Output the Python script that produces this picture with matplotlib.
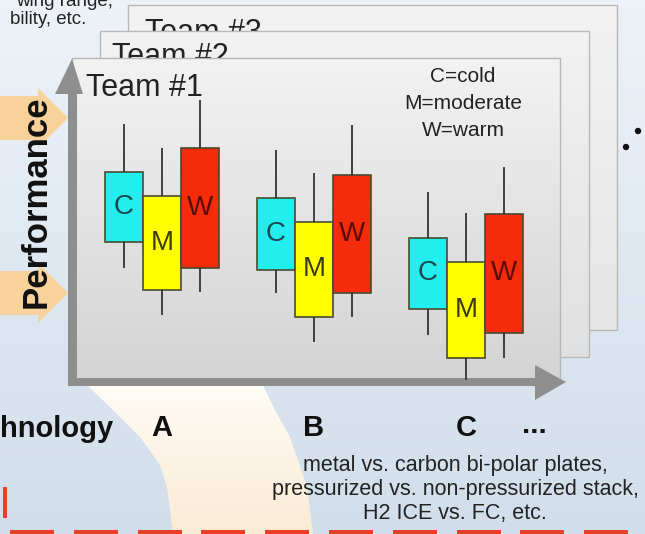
import numpy as np
import matplotlib.pyplot as plt
from matplotlib.patches import Polygon, Rectangle, Circle

# ---- data (performance, 0 = x axis, 100 = top of Team #1 panel) ----
techs = ['A', 'B', 'C']
climates = ['C', 'M', 'W']   # cold, moderate, warm
box_colors = ['#22eeee', '#ffff00', '#f42c0c']
text_colors = ['#1c4650', '#3c3a10', '#5a0c04']

whisker_hi = [[80, 72.5, 87.5], [72, 64.7, 79.7], [58.8, 52.2, 66.6]]
box_hi = [[65, 57.5, 72.5], [57, 49.4, 64], [44.4, 37, 52]]
box_lo = [[43, 28, 35], [34.4, 19.7, 27.2], [22.2, 7, 14.7]]
whisker_lo = [[35, 20.3, 27.5], [27.2, 12, 19.7], [14, 0, 7]]

W, H = 645, 534
SANS = ['Liberation Sans', 'DejaVu Sans']

fig = plt.figure(figsize=(W / 100, H / 100), dpi=100)
bg = fig.add_axes([0, 0, 1, 1])
bg.axis('off')


def vgrad(c0, c1, n=200):
    t = np.linspace(0, 1, n)[:, None, None]
    return np.array(c0) + (np.array(c1) - np.array(c0)) * t * np.ones((1, 2, 1))


# background gradient
bg.imshow(vgrad((0.93, 0.95, 0.97), (0.82, 0.87, 0.92)),
          extent=(0, W, H, 0), aspect='auto', zorder=0)

# cream swath under the chart
left = [(87, 385), (115, 412), (140, 437), (160, 465), (167, 487), (173, 534)]
right = [(313, 534), (307, 487), (290, 437), (275, 410), (263, 385)]
swath = Polygon(left + right, closed=True, fc='none', ec='none')
bg.add_patch(swath)
im = bg.imshow(vgrad((1.0, 0.99, 0.97), (0.98, 0.92, 0.83)),
               extent=(80, 320, H, 380), aspect='auto', zorder=1)
im.set_clip_path(swath)

# orange arrows at left
for yc in (118, 293):
    pts = [(0, yc - 22), (38, yc - 22), (38, yc - 30), (68, yc),
           (38, yc + 30), (38, yc + 22), (0, yc + 22)]
    bg.add_patch(Polygon(pts, closed=True, fc='#f8d29a', ec='none', zorder=1))


def panel(x0, y0, x1, y1, top, bot, z):
    bg.imshow(vgrad(top, bot, 100), extent=(x0, x1, y1, y0), aspect='auto', zorder=z)
    bg.add_patch(Rectangle((x0, y0), x1 - x0, y1 - y0, fc='none',
                           ec='#b8b8b8', lw=1, zorder=z + 0.1))


panel(128, 5, 617, 330, (0.95, 0.95, 0.95), (0.90, 0.90, 0.90), 2)
bg.text(145, 33, 'Team #3', fontsize=22, family=SANS, color='#222222',
        va='center', zorder=3)
panel(100, 31, 589, 357, (0.95, 0.95, 0.95), (0.88, 0.88, 0.88), 4)
bg.text(112, 57, 'Team #2', fontsize=22, family=SANS, color='#222222',
        va='center', zorder=5)
panel(72, 58, 560, 380, (0.95, 0.95, 0.95), (0.83, 0.83, 0.83), 6)
bg.text(86, 88, 'Team #1', fontsize=22, family=SANS, color='#222222',
        va='center', zorder=7)

# legend text
for i, s in enumerate(['C=cold', 'M=moderate', 'W=warm']):
    bg.text(463, 76 + 27.5 * i, s, fontsize=15, family=SANS,
            color='#222222', ha='center', va='center', zorder=7)

# axis arrows
ac = '#8e8e8e'
bg.add_patch(Rectangle((68, 92), 9, 293, fc=ac, ec='none', zorder=8))
bg.add_patch(Polygon([(55, 94), (83, 94), (72, 59)], fc=ac, ec='none', zorder=8))
bg.add_patch(Rectangle((68, 378), 470, 8, fc=ac, ec='none', zorder=8))
bg.add_patch(Polygon([(535, 365), (535, 400), (566, 382)], fc=ac, ec='none', zorder=8))

bg.text(36, 202, 'Performance', rotation=90, fontsize=25, fontweight='bold',
        family=SANS, color='#111111', ha='center', va='center', zorder=8)

# more teams dots
bg.add_patch(Circle((626, 147), 3.2, fc='#111111', ec='none', zorder=8))
bg.add_patch(Circle((638, 131), 3.2, fc='#111111', ec='none', zorder=8))

# top-left clipped text
bg.text(113, 1, 'wing range,', fontsize=13.5, family=SANS, ha='right',
        va='center', color='#222222', zorder=8)
bg.text(86, 19, 'bility, etc.', fontsize=13.5, family=SANS, ha='right',
        va='center', color='#222222', zorder=8)

# technology label and description
bg.text(114, 429, 'Technology', fontsize=21, fontweight='bold', family=SANS,
        ha='right', va='center', color='#111111', zorder=8)
desc = ['metal vs. carbon bi-polar plates,',
        'pressurized vs. non-pressurized stack,',
        'H2 ICE vs. FC, etc.']
for i, s in enumerate(desc):
    bg.text(455, 466 + 23.5 * i, s, fontsize=15.5, family=SANS,
            ha='center', va='center', color='#222222', zorder=8)

# red marks at bottom
bg.add_patch(Rectangle((3, 487), 4, 31, fc='#e84028', ec='none', zorder=8))
for k in range(10):
    bg.add_patch(Rectangle((10 + 63.8 * k, 530), 44, 10, fc='#e84028',
                           ec='none', zorder=8))

bg.set_xlim(0, W)
bg.set_ylim(H, 0)

# ---- the chart itself ----
ax = fig.add_axes([72 / W, (H - 380) / H, 488 / W, 320 / H])
ax.set_xlim(0.408, 3.619)
ax.set_ylim(0, 100)
ax.axis('off')
ax.patch.set_alpha(0)

bw = 0.25
for gi, tech in enumerate(techs):
    for ci in range(3):
        x = gi + 1 + (ci - 1) * bw
        ax.vlines(x, whisker_lo[gi][ci], box_lo[gi][ci], color='#333333', lw=1.3)
        ax.vlines(x, box_hi[gi][ci], whisker_hi[gi][ci], color='#333333', lw=1.3)
        ax.bar(x, box_hi[gi][ci] - box_lo[gi][ci], bottom=box_lo[gi][ci],
               width=bw, color=box_colors[ci], edgecolor='#4a4a30', lw=1.2)
        ax.text(x, (box_hi[gi][ci] + box_lo[gi][ci]) / 2, climates[ci],
                fontsize=20, family=SANS, color=text_colors[ci],
                ha='center', va='center')
    ax.text(gi + 1, -15, tech, fontsize=21, fontweight='bold', family=SANS,
            ha='center', va='center', color='#111111', clip_on=False)
ax.text(3.45, -14, '...', fontsize=21, fontweight='bold', family=SANS,
        ha='center', va='center', color='#111111', clip_on=False)

fig.savefig('out.png', dpi=100)
